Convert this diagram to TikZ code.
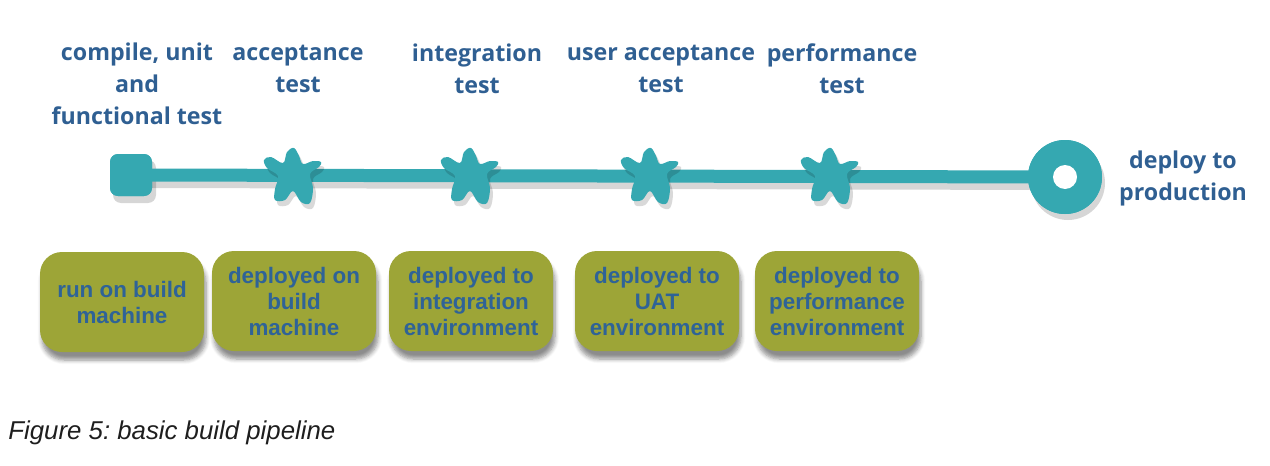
\documentclass[tikz,border=0pt]{standalone}
\usepackage{fontspec}
\setmainfont{Liberation Sans}
\newfontfamily\labelfont{Open Sans}
\usetikzlibrary{shadows.blur,positioning}
\definecolor{pipeteal}{HTML}{35A8B1}
\definecolor{boxolive}{HTML}{9DA537}
\definecolor{labelblue}{HTML}{2F5F92}
\definecolor{boxblue}{HTML}{2F6397}
\definecolor{captiongray}{HTML}{1E1E1E}
\def\splatpts{(-4,-24) (3,-28) (8,-20) (12,-12) (22,-15) (30,-14) (28,-9) (19,-2) (22,12) (19,27) (10,26) (2,15) (-6,24) (-16,24) (-16,13) (-13,0) (-24,-8) (-27,-16) (-20,-19) (-8,-13)}
\begin{document}
\frenchspacing
\begin{tikzpicture}[x=0.5pt,y=-0.5pt,
  toplabel/.style={font=\labelfont\bfseries\fontsize{11.6}{16}\selectfont, text=labelblue, align=center, inner sep=0pt},
  stagebox/.style={fill=boxolive, rounded corners=11pt, minimum width=82pt, minimum height=50pt, inner sep=0pt,
     align=center, text=boxblue, font=\bfseries\fontsize{11.2}{13}\selectfont,
     blur shadow={shadow xshift=1pt, shadow yshift=-4pt, shadow blur steps=6, shadow opacity=45}},
  splat/.pic={
    \begin{scope}[shift={(3,5)}]
    \fill[black, opacity=0.15] plot[smooth cycle, tension=0.6] coordinates {\splatpts};
    \end{scope}
    \fill[pipeteal] plot[smooth cycle, tension=0.6] coordinates {\splatpts};
  }]
\useasboundingbox (0,0) rectangle (1270,466);

% top labels
\node[toplabel] (l1) at (137,84) {compile, unit\\and\\functional test};
\node[toplabel] (l2) at (298,69) {acceptance\\test};
\node[toplabel] (l3) at (477,69) {integration\\test};
\node[toplabel] (l4) at (661,69) {user acceptance\\test};
\node[toplabel] (l5) at (842,69) {performance\\test};
\node[toplabel] (l6) at (1183,178) {deploy to\\production};

% pipeline shadow
\coordinate (sh1) at (134,181);
\coordinate (sh2) at (1068,183);
\draw[black, opacity=0.16, line width=7pt] (sh1) -- (sh2);
\fill[black, opacity=0.16, rounded corners=4pt] (113,160) rectangle (156,203);
\fill[black, opacity=0.16] (sh2) circle (37);

% pipeline
\node[fill=pipeteal, rounded corners=4pt, minimum size=21pt, inner sep=0pt] (start) at (131,175) {};
\node[fill=pipeteal, circle, minimum size=37pt, inner sep=0pt] (end) at (1065,177) {};
\draw[pipeteal, line width=6.5pt] (start.center) -- (end.center);
\node[fill=pipeteal, rounded corners=4pt, minimum size=21pt, inner sep=0pt] at (start) {};
\node[fill=pipeteal, circle, minimum size=37pt, inner sep=0pt] at (end) {};
\node[fill=white, circle, minimum size=12pt, inner sep=0pt] (hole) at (end) {};

\coordinate (s1) at (291,176);
\coordinate (s2) at (468,176);
\coordinate (s3) at (648,176);
\coordinate (s4) at (828,176);
\pic at (s1) {splat};
\pic at (s2) {splat};
\pic at (s3) {splat};
\pic at (s4) {splat};

% boxes
\node[stagebox] (b1) at (122,302) {run on build\\machine};
\node[stagebox] (b2) at (294,301) {deployed on\\build\\machine};
\node[stagebox] (b3) at (471,301) {deployed to\\integration\\environment};
\node[stagebox] (b4) at (657,301) {deployed to\\UAT\\environment};
\node[stagebox] (b5) at (837,301) {deployed to\\performance\\environment};

% caption
\node[anchor=west, inner sep=0pt, text=captiongray, font=\itshape\fontsize{12.9}{15}\selectfont] (cap) at (8,433) {Figure 5: basic build pipeline};
\end{tikzpicture}
\end{document}
